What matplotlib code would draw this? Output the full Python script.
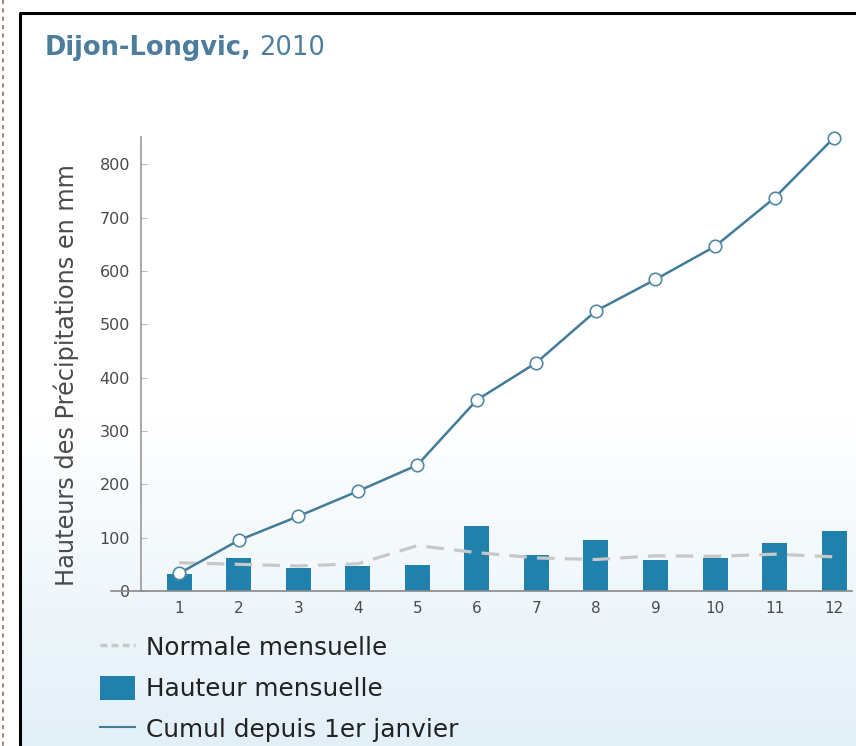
import numpy as np
import matplotlib
matplotlib.use('Agg')
import matplotlib.pyplot as plt
from matplotlib.lines import Line2D
from matplotlib.patches import Patch

plt.rcParams['font.family'] = ['DejaVu Sans']

# Data (mm)
months = [1, 2, 3, 4, 5, 6, 7, 8, 9, 10, 11, 12]
month_labels = ['1', '2', '3', '4', '5', '6', '7', '8', '9', '10', '11', '12']
hauteur = [31, 62, 44, 47, 49, 121, 67, 96, 59, 62, 90, 112]
normale = [53, 50, 47, 51, 85, 72, 62, 59, 66, 65, 69, 64]
cumul = [33, 95, 140, 187, 236, 358, 428, 525, 584, 646, 737, 850]
yticks = [0, 100, 200, 300, 400, 500, 600, 700, 800]

BAR_COLOR = '#2181ad'
CUMUL_COLOR = '#427c99'
NORMALE_COLOR = '#c8c8c8'
TEXT_COLOR = '#4a4a4a'

W, H = 856, 746
fig = plt.figure(figsize=(W / 100, H / 100), dpi=100)

# background: white top, pale blue gradient towards the bottom (inside frame)
bg = fig.add_axes([0, 0, 1, 1], zorder=-10)
bg.set_xlim(0, W)
bg.set_ylim(H, 0)
bg.axis('off')
grad = np.linspace(0, 1, 300)[:, None]
grad = np.clip((grad - 0.55) / 0.45, 0, 1)
top = np.array([1.0, 1.0, 1.0])
bottom = np.array([0.89, 0.94, 0.97])
img = top + grad[..., None] * (bottom - top)
img = np.repeat(img, 2, axis=1)
bg.imshow(img, extent=[20, W, H, 13], aspect='auto', interpolation='bilinear')
# frame lines and dotted border on the far left
bg.plot([20, 20, W], [H, 13, 13], color='black', lw=2.2, solid_capstyle='butt')
bg.plot([3.5, 3.5], [0, H], color='#8b735e', lw=1.2, linestyle=(0, (2.5, 2.5)))

# main plot
ax = fig.add_axes([141 / W, (H - 591) / H, 711 / W, 454 / H])
ax.set_facecolor('none')
ax.bar(months, hauteur, width=0.42, color=BAR_COLOR, zorder=2)
ax.plot(months, normale, color=NORMALE_COLOR, lw=2.3, linestyle=(0, (5.5, 3.2)), zorder=3)
ax.plot(months, cumul, color=CUMUL_COLOR, lw=1.8, marker='o', markersize=9,
        markerfacecolor='white', markeredgecolor='#5289a4', markeredgewidth=1.2,
        zorder=4, clip_on=False)

ax.set_xlim(0.36, 12.3)
ax.set_ylim(0, 851)
ax.set_xticks(months)
ax.set_xticklabels(month_labels)
ax.set_yticks(yticks)
ax.set_yticklabels([str(v) for v in yticks])
ax.tick_params(axis='x', length=0, pad=7, labelsize=11, labelcolor=TEXT_COLOR)
ax.tick_params(axis='y', direction='in', length=4, color='#bbbbbb', pad=8,
               labelsize=11.5, labelcolor=TEXT_COLOR)
for side in ['top', 'right']:
    ax.spines[side].set_visible(False)
ax.spines['left'].set_color('#999999')
ax.spines['left'].set_linewidth(1.2)
ax.spines['bottom'].set_color('#888888')
ax.spines['bottom'].set_linewidth(1.2)
# baseline runs a bit to the left, under the 0 label
ax.axhline(0, xmin=-0.042, xmax=0, color='#888888', lw=1.2, clip_on=False)

fig.text(66 / W, 1 - 375 / H, 'Hauteurs des Précipitations en mm', rotation=90,
         ha='center', va='center', fontsize=17.3, color=TEXT_COLOR)

# title
t1 = fig.text(45 / W, 1 - 48 / H, 'Dijon-Longvic,', fontsize=18.5, fontweight='bold',
              color='#4d7d9c', va='center', ha='left')
fig.canvas.draw()
bb = t1.get_window_extent()
fig.text(bb.x1 / W + 7 / W, 1 - 48 / H, '2010', fontsize=18.5, color='#4d7d9c',
         va='center', ha='left')

# legend
handles = [
    Line2D([], [], color=NORMALE_COLOR, lw=2.5, linestyle=(0, (2, 1.2))),
    Patch(facecolor=BAR_COLOR, edgecolor='none'),
    Line2D([], [], color=CUMUL_COLOR, lw=1.5),
]
labels = ['Normale mensuelle', 'Hauteur mensuelle', 'Cumul depuis 1er janvier']
fig.legend(handles, labels, loc='upper left', bbox_to_anchor=(100 / W, 1 - 635 / H),
           frameon=False, fontsize=17.8, handlelength=1.4, handleheight=1.1,
           handletextpad=0.45, labelspacing=0.64, borderpad=0, borderaxespad=0,
           labelcolor='#222222')

fig.savefig('out.png', dpi=100)
